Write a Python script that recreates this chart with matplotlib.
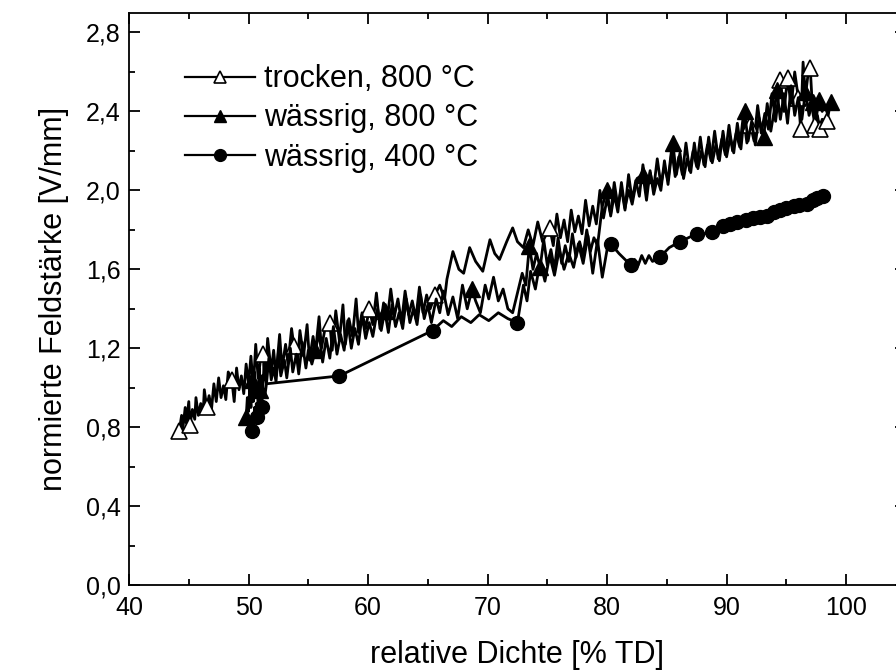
import matplotlib
matplotlib.use("Agg")
import matplotlib.pyplot as plt
from matplotlib.ticker import MultipleLocator, FuncFormatter

plt.rcParams['font.family'] = ['Liberation Sans', 'DejaVu Sans']

# trocken, 800 °C  (offene Dreiecke)
x_tr = [44.2, 44.4, 44.5, 44.7, 44.8, 45.0, 45.1, 45.3, 45.5, 45.6,
        45.8, 46.0, 46.2, 46.3, 46.5, 46.7, 46.9, 47.1, 47.3, 47.5,
        47.7, 47.9, 48.1, 48.3, 48.6, 48.8, 49.0, 49.2, 49.4, 49.6,
        49.8, 50.0, 50.2, 50.4, 50.6, 50.8, 51.0, 51.2, 51.4, 51.6,
        51.9, 52.1, 52.3, 52.6, 52.8, 53.1, 53.3, 53.6, 53.8, 54.1,
        54.3, 54.6, 54.9, 55.1, 55.4, 55.6, 55.9, 56.1, 56.4, 56.8,
        57.0, 57.3, 57.6, 57.9, 58.1, 58.4, 58.7, 59.0, 59.2, 59.5,
        59.8, 60.1, 60.4, 60.7, 61.0, 61.3, 61.6, 61.9, 62.2, 62.5,
        62.8, 63.1, 63.4, 63.7, 64.0, 64.3, 64.6, 64.9, 65.2, 65.6,
        66.0, 66.4, 66.6, 67.1, 67.6, 68.0, 68.5, 69.0, 69.6, 70.2,
        70.6, 71.0, 71.6, 72.1, 72.5, 73.0, 73.4, 73.8, 74.2, 74.6,
        75.2, 75.5, 75.8, 76.1, 76.4, 76.7, 77.0, 77.3, 77.6, 77.9,
        78.2, 78.5, 78.8, 79.1, 79.4, 79.7, 80.0, 80.3, 80.6, 80.9,
        81.2, 81.5, 81.8, 82.1, 82.4, 82.7, 83.0, 83.3, 83.6, 83.9,
        84.2, 84.5, 84.8, 85.1, 85.4, 85.7, 86.0, 86.3, 86.6, 86.9,
        87.2, 87.5, 87.8, 88.1, 88.4, 88.7, 89.0, 89.3, 89.6, 89.9,
        90.2, 90.5, 90.8, 91.1, 91.4, 91.7, 92.0, 92.3, 92.6, 92.9,
        93.2, 93.5, 93.8, 94.1, 94.5, 94.8, 95.1, 95.4, 95.7, 96.0,
        96.2, 96.4, 96.6, 96.8, 97.0, 97.2, 97.4, 97.6, 97.8, 98.0,
        98.4]
y_tr = [0.78, 0.86, 0.79, 0.90, 0.82, 0.93, 0.81, 0.89, 0.84, 0.95,
        0.86, 0.92, 0.87, 0.99, 0.90, 0.96, 0.89, 1.02, 0.93, 1.05,
        0.95, 1.01, 0.94, 1.08, 1.04, 0.93, 1.10, 0.99, 1.06, 0.97,
        1.12, 1.02, 1.16, 1.00, 1.22, 1.05, 1.14, 1.17, 1.04, 1.25,
        1.08, 1.19, 1.06, 1.27, 1.10, 1.22, 1.12, 1.30, 1.21, 1.13,
        1.29, 1.16, 1.32, 1.14, 1.26, 1.18, 1.36, 1.20, 1.30, 1.33,
        1.19, 1.39, 1.24, 1.42, 1.22, 1.35, 1.26, 1.45, 1.28, 1.38,
        1.30, 1.40, 1.32, 1.48, 1.30, 1.43, 1.34, 1.50, 1.36, 1.45,
        1.33, 1.49, 1.37, 1.44, 1.35, 1.51, 1.38, 1.47, 1.40, 1.47,
        1.52, 1.45, 1.55, 1.69, 1.60, 1.58, 1.71, 1.64, 1.59, 1.75,
        1.68, 1.65, 1.74, 1.81, 1.74, 1.71, 1.80, 1.72, 1.84, 1.74,
        1.81, 1.72, 1.88, 1.76, 1.85, 1.74, 1.90, 1.79, 1.87, 1.78,
        1.95, 1.82, 1.92, 1.83, 2.00, 1.86, 1.96, 1.88, 2.04, 1.92,
        2.01, 1.90, 2.08, 1.95, 2.05, 1.97, 2.13, 1.99, 2.09, 2.01,
        2.16, 2.03, 2.12, 2.05, 2.21, 2.07, 2.17, 2.08, 2.24, 2.10,
        2.20, 2.12, 2.27, 2.13, 2.23, 2.15, 2.30, 2.16, 2.26, 2.18,
        2.33, 2.20, 2.29, 2.22, 2.38, 2.24, 2.33, 2.25, 2.43, 2.29,
        2.39, 2.31, 2.49, 2.35, 2.56, 2.40, 2.57, 2.43, 2.60, 2.47,
        2.31, 2.65, 2.48, 2.58, 2.62, 2.40, 2.33, 2.38, 2.31, 2.36,
        2.35]
mx_tr = [44.2, 45.1, 46.5, 48.6, 51.2, 53.8, 56.8, 60.1, 65.6, 75.2,
         92.0, 94.5, 95.1, 96.0, 96.2, 97.0, 97.4, 97.8, 98.4]

# wässrig, 800 °C  (gefüllte Dreiecke)
x_w8 = [49.8, 49.9, 50.0, 50.1, 50.2, 50.3, 50.4, 50.5, 50.6, 50.7,
        50.8, 50.9, 51.0, 51.1, 51.2, 51.3, 51.5, 51.7, 51.9, 52.1,
        52.3, 52.5, 52.7, 53.0, 53.2, 53.5, 53.7, 54.0, 54.2, 54.5,
        54.8, 55.0, 55.3, 55.6, 55.9, 56.2, 56.5, 56.8, 57.1, 57.4,
        57.7, 58.0, 58.3, 58.6, 58.9, 59.2, 59.5, 59.8, 60.1, 60.4,
        60.8, 61.1, 61.4, 61.7, 62.0, 62.3, 62.6, 62.9, 63.2, 63.5,
        63.8, 64.1, 64.4, 64.7, 65.0, 65.3, 65.7, 66.0, 66.3, 66.7,
        67.1, 67.5, 67.9, 68.3, 68.7, 69.0, 69.4, 69.8, 70.1, 70.5,
        70.9, 71.3, 71.7, 72.1, 72.5, 72.9, 73.2, 73.5, 73.8, 74.1,
        74.4, 74.7, 75.0, 75.3, 75.6, 75.9, 76.2, 76.5, 76.8, 77.1,
        77.4, 77.7, 78.0, 78.3, 78.6, 78.9, 79.2, 79.6, 80.0, 80.3,
        80.6, 80.9, 81.2, 81.5, 81.8, 82.1, 82.5, 83.0, 83.3, 83.6,
        83.9, 84.2, 84.5, 84.8, 85.1, 85.5, 85.8, 86.1, 86.4, 86.7,
        87.0, 87.3, 87.6, 87.9, 88.2, 88.5, 88.8, 89.1, 89.4, 89.7,
        90.0, 90.3, 90.6, 90.9, 91.2, 91.5, 91.8, 92.1, 92.4, 92.7,
        93.1, 93.4, 93.7, 94.0, 94.2, 94.5, 94.8, 95.1, 95.4, 95.7,
        96.0, 96.3, 96.6, 96.9, 97.2, 97.5, 97.7, 98.0, 98.2, 98.5,
        98.7]
y_w8 = [0.85, 0.95, 0.88, 1.00, 0.90, 1.04, 0.93, 1.08, 0.95, 1.02,
        0.97, 1.10, 0.99, 1.06, 1.00, 1.12, 1.02, 1.15, 1.04, 1.10,
        1.03, 1.18, 1.06, 1.14, 1.05, 1.20, 1.08, 1.17, 1.07, 1.23,
        1.10, 1.19, 1.12, 1.19, 1.28, 1.13, 1.25, 1.15, 1.31, 1.17,
        1.27, 1.19, 1.34, 1.20, 1.30, 1.22, 1.37, 1.25, 1.33, 1.26,
        1.40, 1.29, 1.39, 1.28, 1.42, 1.31, 1.38, 1.30, 1.45, 1.33,
        1.40, 1.32, 1.47, 1.35, 1.42, 1.33, 1.45, 1.38, 1.49, 1.37,
        1.46, 1.35, 1.52, 1.40, 1.50, 1.44, 1.38, 1.52, 1.45, 1.56,
        1.44, 1.50, 1.40, 1.38, 1.48, 1.58, 1.52, 1.72, 1.60, 1.68,
        1.61, 1.75, 1.62, 1.70, 1.60, 1.76, 1.63, 1.72, 1.64, 1.78,
        1.66, 1.74, 1.67, 1.80, 1.69, 1.76, 1.72, 1.92, 2.00, 1.87,
        1.98, 1.89, 2.04, 1.91, 2.00, 1.93, 2.06, 2.08, 1.95, 2.10,
        1.98, 2.06, 2.00, 2.15, 2.03, 2.24, 2.08, 2.19, 2.06, 2.16,
        2.09, 2.24, 2.11, 2.20, 2.12, 2.27, 2.14, 2.23, 2.15, 2.30,
        2.17, 2.27, 2.19, 2.34, 2.21, 2.40, 2.25, 2.35, 2.23, 2.37,
        2.27, 2.44, 2.30, 2.41, 2.51, 2.36, 2.49, 2.34, 2.53, 2.38,
        2.47, 2.36, 2.50, 2.38, 2.45, 2.36, 2.46, 2.40, 2.43, 2.38,
        2.45]
mx_w8 = [49.8, 50.3, 51.0, 55.6, 61.4, 68.7, 73.5, 74.4, 80.0, 83.0,
         85.5, 91.5, 93.1, 94.2, 96.6, 97.2, 97.7, 98.7]

# wässrig, 400 °C  (gefüllte Kreise)
x_w4 = [50.3, 50.35, 50.45, 50.5, 50.6, 50.65, 50.7, 50.8, 50.9, 51.0,
        51.1, 51.2, 51.35, 51.5, 57.6, 65.4, 66.3, 67.0, 67.8, 68.6,
        69.3, 70.1, 70.9, 71.7, 72.5, 73.0, 73.3, 73.6, 74.0, 74.4,
        74.8, 75.2, 75.6, 76.0, 76.4, 76.8, 77.2, 77.6, 78.0, 78.4,
        78.8, 79.2, 79.6, 80.0, 80.3, 81.0, 82.0, 82.3, 82.6, 82.9,
        83.2, 83.5, 83.8, 84.4, 85.2, 86.1, 86.8, 87.5, 88.1, 88.8,
        89.7, 90.3, 90.9, 91.6, 92.2, 92.8, 93.4, 94.0, 94.5, 95.0,
        95.6, 96.1, 96.7, 97.2, 97.6, 98.1]
y_w4 = [0.78, 0.86, 0.80, 0.90, 0.83, 0.92, 0.85, 0.95, 0.88, 0.97,
        0.90, 1.00, 0.95, 1.02, 1.06, 1.29, 1.34, 1.31, 1.36, 1.33,
        1.37, 1.34, 1.38, 1.35, 1.33, 1.52, 1.44, 1.59, 1.50, 1.64,
        1.54, 1.67, 1.57, 1.70, 1.60, 1.68, 1.61, 1.73, 1.63, 1.77,
        1.58, 1.75, 1.56, 1.70, 1.73, 1.68, 1.62, 1.65, 1.62, 1.67,
        1.63, 1.67, 1.64, 1.66, 1.71, 1.74, 1.76, 1.78, 1.78, 1.79,
        1.82, 1.83, 1.84, 1.85, 1.86, 1.865, 1.87, 1.89, 1.90, 1.91,
        1.92, 1.925, 1.93, 1.95, 1.96, 1.97]
mx_w4 = [50.3, 50.7, 51.1, 57.6, 65.4, 72.5, 80.3, 82.0, 84.4, 86.1,
         87.5, 88.8, 89.7, 90.3, 90.9, 91.6, 92.2, 92.8, 93.4, 94.0,
         94.5, 95.0, 95.6, 96.1, 96.7, 97.2, 97.6, 98.1]


def nearest(xs, marks):
    return sorted({min(range(len(xs)), key=lambda i: abs(xs[i] - m)) for m in marks})


fig = plt.figure(figsize=(8.96, 6.71), dpi=100)
ax = fig.add_axes([0.144, 0.128, 0.867, 0.853])

ax.plot(x_tr, y_tr, color='black', lw=2.0, marker='^', ms=11, mfc='white', mec='black',
        mew=1.2, markevery=nearest(x_tr, mx_tr), label='trocken, 800 °C')
ax.plot(x_w8, y_w8, color='black', lw=2.0, marker='^', ms=11, mfc='black', mec='black',
        markevery=nearest(x_w8, mx_w8), label='wässrig, 800 °C')
ax.plot(x_w4, y_w4, color='black', lw=2.0, marker='o', ms=10, mfc='black', mec='black',
        markevery=nearest(x_w4, mx_w4), label='wässrig, 400 °C')

ax.set_xlim(40, 105)
ax.set_ylim(0, 2.9)
ax.set_xticks([40, 50, 60, 70, 80, 90, 100])
ax.xaxis.set_minor_locator(MultipleLocator(5))
ax.set_yticks([0, 0.4, 0.8, 1.2, 1.6, 2.0, 2.4, 2.8])
ax.yaxis.set_minor_locator(MultipleLocator(0.2))
ax.yaxis.set_major_formatter(FuncFormatter(lambda v, p: ('%.1f' % v).replace('.', ',')))

ax.tick_params(which='both', direction='in', top=True, right=True, width=1.3, labelsize=18)
ax.tick_params(which='major', length=8)
ax.tick_params(which='minor', length=4.5)
ax.tick_params(axis='x', pad=8)
ax.tick_params(axis='y', pad=6)
for s in ax.spines.values():
    s.set_linewidth(1.3)

ax.set_xlabel('relative Dichte [% TD]', fontsize=22, labelpad=14)
ax.set_ylabel('normierte Feldstärke [V/mm]', fontsize=22, labelpad=12)

leg = ax.legend(loc='upper left', bbox_to_anchor=(0.072, 0.91), frameon=False, fontsize=22,
                handlelength=2.3, handletextpad=0.3, labelspacing=0.3, borderpad=0,
                borderaxespad=0, markerscale=0.85)
for l in leg.get_lines():
    l.set_linewidth(1.6)

fig.savefig('out.png', dpi=100)
